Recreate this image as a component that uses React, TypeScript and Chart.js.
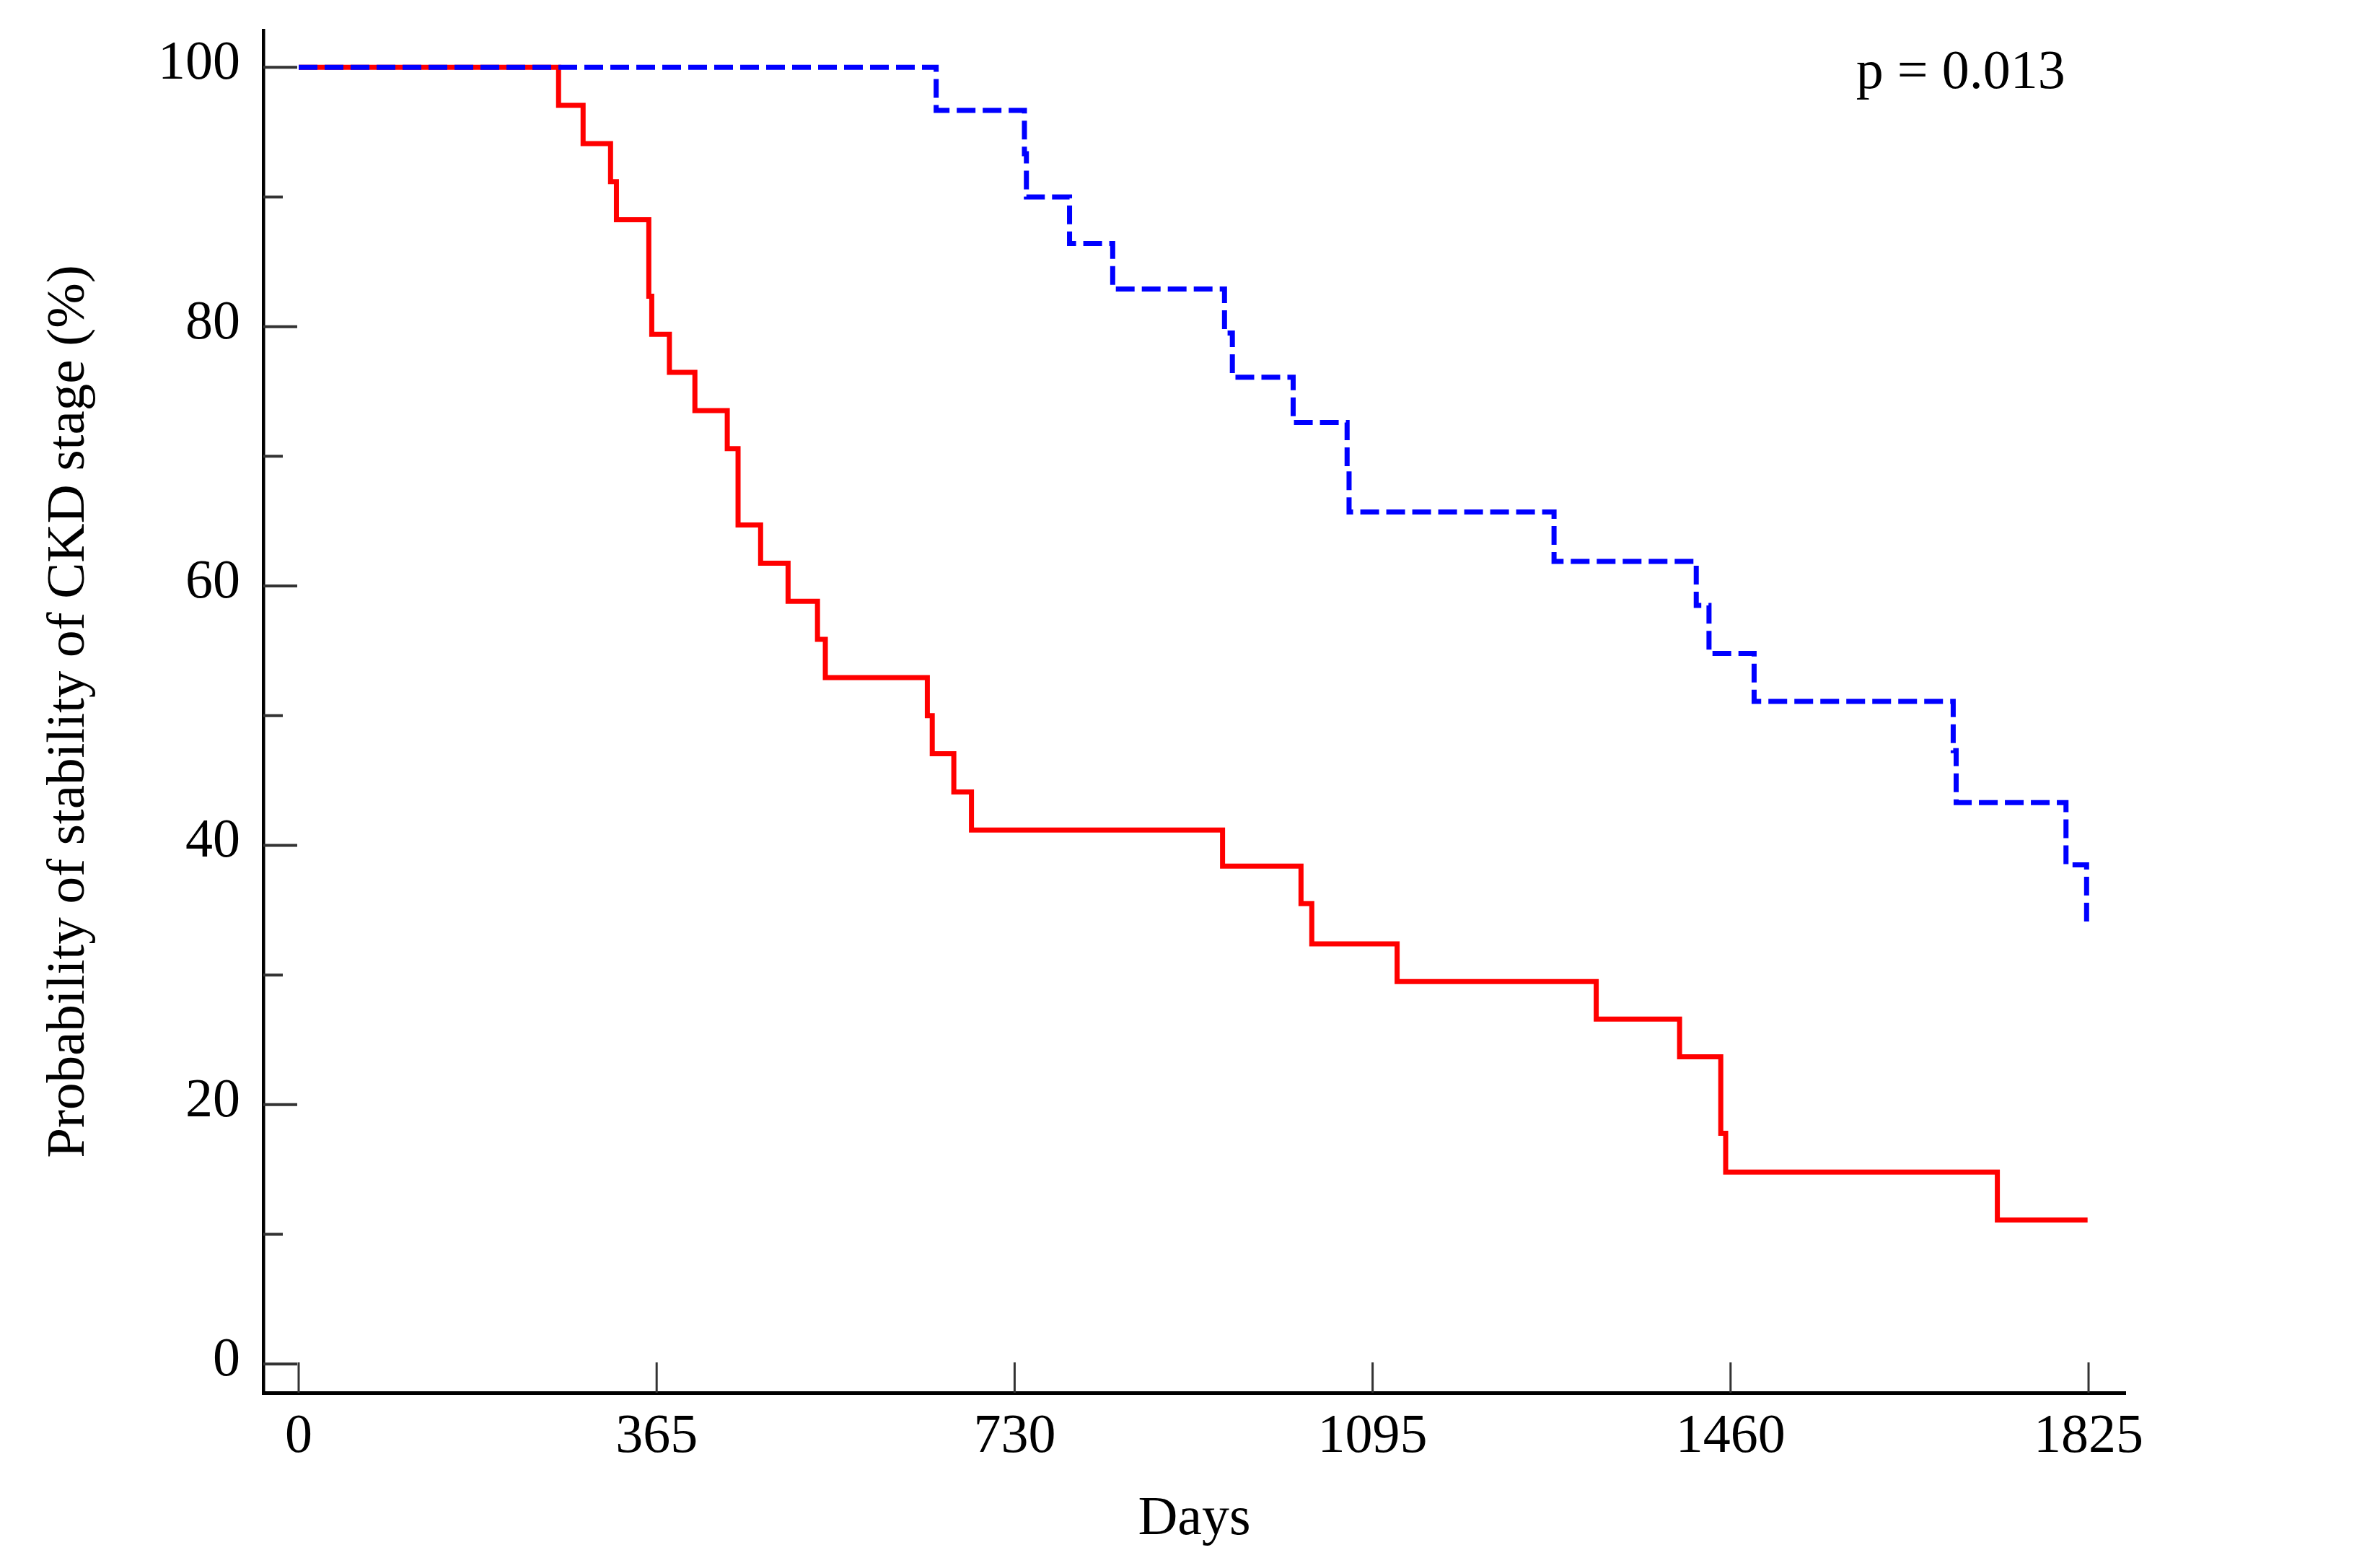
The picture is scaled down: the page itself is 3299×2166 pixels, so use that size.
import React, { useEffect, useRef } from 'react';
import { Chart, registerables } from 'chart.js';

Chart.register(...registerables);

// ---- Data ----
const xTickDays = [0, 365, 730, 1095, 1460, 1825];
const yMajorTicks = [0, 20, 40, 60, 80, 100];
const yMinorTicks = [10, 30, 50, 70, 90];

// Red (solid) Kaplan–Meier curve: event day and survival (%) after the event
const redDays = [0, 265, 290, 318, 324, 357, 360, 378, 404, 437, 448, 471, 499, 529, 537, 641, 646, 668, 686, 942, 1022, 1033, 1120, 1323, 1408, 1450, 1455, 1732, 1824];
const redSurvival = [100, 97.06, 94.12, 91.18, 88.24, 82.35, 79.41, 76.47, 73.53, 70.59, 64.71, 61.76, 58.82, 55.88, 52.94, 50.0, 47.06, 44.12, 41.18, 38.4, 35.5, 32.4, 29.5, 26.6, 23.7, 17.8, 14.8, 11.1, 11.1];

// Blue (dashed) Kaplan–Meier curve
const blueDays = [0, 650, 740, 742, 786, 830, 944, 952, 1014, 1069, 1071, 1280, 1425, 1438, 1484, 1687, 1690, 1802, 1823];
const blueSurvival = [100, 96.67, 93.33, 90.0, 86.4, 82.9, 79.5, 76.1, 72.6, 69.2, 65.7, 61.9, 58.5, 54.8, 51.1, 47.3, 43.3, 38.5, 33.6];

const xTitle = 'Days';
const yTitle = 'Probability of stability of CKD stage (%)';
const pValueText = 'p = 0.013';
const pValueAnchor = { day: 1588, value: 98.4 };

const FONT = "'Liberation Serif', 'Times New Roman', serif";

const insideTicks = {
  id: 'insideTicks',
  beforeDatasetsDraw(chart: any) {
    const { ctx, chartArea } = chart;
    const x = chart.scales.x;
    const y = chart.scales.y;
    ctx.save();
    ctx.strokeStyle = '#333333';
    ctx.lineWidth = 4;
    ctx.beginPath();
    for (const v of yMajorTicks) {
      const py = y.getPixelForValue(v);
      ctx.moveTo(chartArea.left, py);
      ctx.lineTo(chartArea.left + 47, py);
    }
    for (const v of yMinorTicks) {
      const py = y.getPixelForValue(v);
      ctx.moveTo(chartArea.left, py);
      ctx.lineTo(chartArea.left + 27, py);
    }
    ctx.stroke();
    ctx.lineWidth = 3;
    ctx.beginPath();
    for (const d of xTickDays) {
      const px = x.getPixelForValue(d);
      ctx.moveTo(px, chartArea.bottom);
      ctx.lineTo(px, chartArea.bottom - 42);
    }
    ctx.stroke();
    ctx.restore();
  },
  afterDraw(chart: any) {
    const { ctx } = chart;
    const x = chart.scales.x;
    const y = chart.scales.y;
    ctx.save();
    ctx.fillStyle = '#000';
    ctx.font = `76px ${FONT}`;
    ctx.textAlign = 'left';
    ctx.textBaseline = 'alphabetic';
    ctx.fillText(pValueText, x.getPixelForValue(pValueAnchor.day), y.getPixelForValue(pValueAnchor.value));
    ctx.restore();
  },
};

export default function App() {
  const canvasRef = useRef<HTMLCanvasElement | null>(null);

  useEffect(() => {
    if (!canvasRef.current) return;
    const red = redDays.map((d, i) => ({ x: d, y: redSurvival[i] }));
    const blue = blueDays.map((d, i) => ({ x: d, y: blueSurvival[i] }));

    const chart = new Chart(canvasRef.current, {
      type: 'line',
      data: {
        datasets: [
          {
            label: 'red',
            data: red,
            borderColor: 'rgb(255,0,0)',
            borderWidth: 7,
            stepped: 'before',
            pointRadius: 0,
            fill: false,
            order: 2,
          },
          {
            label: 'blue',
            data: blue,
            borderColor: 'rgb(0,0,255)',
            borderWidth: 7,
            borderDash: [26, 10],
            stepped: 'before',
            pointRadius: 0,
            fill: false,
            order: 1,
          },
        ],
      },
      options: {
        animation: false,
        responsive: false,
        devicePixelRatio: 1,
        layout: { padding: { top: 42, right: 353, left: 0, bottom: 0 } },
        plugins: {
          legend: { display: false },
          tooltip: { enabled: false },
          title: { display: false },
        },
        scales: {
          x: {
            type: 'linear',
            min: -36.04,
            max: 1862.5,
            afterBuildTicks: (s: any) => {
              s.ticks = xTickDays.map((v) => ({ value: v }));
            },
            afterFit: (s: any) => {
              s.height = 236;
              s.paddingLeft = 0;
              s.paddingRight = 0;
            },
            grid: { display: false, drawTicks: false },
            border: { display: true, color: '#000', width: 5 },
            ticks: {
              autoSkip: false,
              maxRotation: 0,
              minRotation: 0,
              padding: 16,
              color: '#000',
              font: { family: FONT, size: 76 },
              callback: (v: any) => String(v),
            },
            title: {
              display: true,
              text: xTitle,
              color: '#000',
              font: { family: FONT, size: 76 },
              padding: { top: 0, bottom: 14 },
            },
          },
          y: {
            type: 'linear',
            min: -2.21,
            max: 102.85,
            afterBuildTicks: (s: any) => {
              s.ticks = yMajorTicks.map((v) => ({ value: v }));
            },
            afterFit: (s: any) => {
              s.width = 365;
              s.paddingTop = 0;
              s.paddingBottom = 0;
            },
            grid: { display: false, drawTicks: false },
            border: { display: true, color: '#000', width: 4.5 },
            ticks: {
              autoSkip: false,
              padding: 32,
              labelOffset: -4,
              color: '#000',
              font: { family: FONT, size: 76 },
              callback: (v: any) => String(v),
            },
            title: {
              display: true,
              text: yTitle,
              color: '#000',
              font: { family: FONT, size: 75 },
              padding: { top: 51, bottom: 0 },
            },
          },
        },
      },
      plugins: [insideTicks],
    } as any);

    return () => chart.destroy();
  }, []);

  return (
    <div style={{ position: 'absolute', left: 0, top: 0, width: 3299, height: 2166, background: '#fff' }}>
      <canvas ref={canvasRef} width={3299} height={2166} style={{ width: 3299, height: 2166, display: 'block' }} />
    </div>
  );
}
